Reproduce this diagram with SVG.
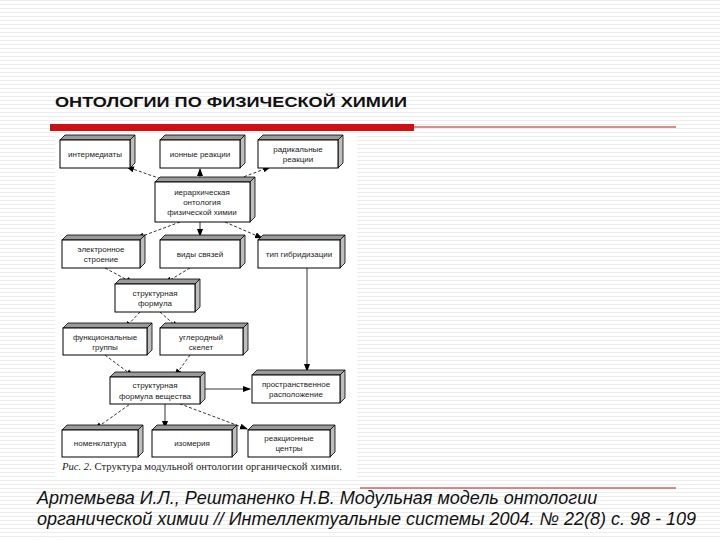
<svg xmlns="http://www.w3.org/2000/svg" width="720" height="540" viewBox="0 0 720 540">
<defs>
<pattern id="st" width="4" height="4" patternUnits="userSpaceOnUse"><rect width="4" height="4" fill="#fff"/><rect y="0" width="4" height="1" fill="#ececec"/></pattern>
<marker id="ar" markerWidth="8" markerHeight="8" refX="7" refY="4" orient="auto" markerUnits="userSpaceOnUse"><path d="M0,1 L8,4 L0,7 Z" fill="#000"/></marker>
<style>
.f{fill:#fff;stroke:#000;stroke-width:1}
.t{fill:#9a9a9a;stroke:#000;stroke-width:0.8}
.r{fill:#bdbdbd;stroke:#000;stroke-width:0.8}
.x{font-family:"Liberation Sans",Arial,sans-serif;font-size:8px;fill:#222;text-anchor:middle}
.d{stroke:#000;stroke-width:0.8;fill:none;stroke-dasharray:3,2;marker-end:url(#ar)}
.s{stroke:#000;stroke-width:0.8;fill:none;marker-end:url(#ar)}
</style>
</defs>
<rect width="720" height="540" fill="url(#st)"/>
<text x="55" y="107" font-family="Liberation Sans,Arial,sans-serif" font-size="15" font-weight="bold" fill="#111" textLength="352" lengthAdjust="spacingAndGlyphs">ОНТОЛОГИИ ПО ФИЗИЧЕСКОЙ ХИМИИ</text>
<rect x="50" y="124" width="364" height="7" fill="#d01010"/>
<line x1="414" y1="127" x2="676" y2="127" stroke="#d01010" stroke-width="1"/>
<rect x="55" y="134" width="302" height="344" fill="#fff"/>
<g id="connectors">
<path class="d" d="M170,182 L127,167"/>
<path class="s" d="M200,182 L200,169"/>
<path class="d" d="M230,182 L270,167"/>
<path class="d" d="M180,222 L137,238"/>
<path class="s" d="M200,222 L200,236"/>
<path class="d" d="M225,222 L262,238"/>
<path class="d" d="M105,268 L133,283"/>
<path class="d" d="M190,268 L165,283"/>
<path class="d" d="M140,312 L125,328"/>
<path class="d" d="M160,312 L178,328"/>
<path class="d" d="M105,355 L133,376"/>
<path class="d" d="M190,355 L175,376"/>
<path class="s" d="M307,268 L307,371"/>
<path class="s" d="M200,389 L250,389"/>
<path class="d" d="M133,402 L95,429"/>
<path class="s" d="M165,402 L165,428"/>
<path class="d" d="M175,402 L247,429"/>
</g>
<g id="n1"><polygon class="t" points="60,140 65,135 135,135 130,140"/><polygon class="r" points="130,140 135,135 135,163 130,168"/><rect class="f" x="60" y="140" width="70" height="28"/><text class="x" x="95" y="157">интермедиаты</text></g>
<g id="n2"><polygon class="t" points="160,140 165,135 245,135 240,140"/><polygon class="r" points="240,140 245,135 245,163 240,168"/><rect class="f" x="160" y="140" width="80" height="28"/><text class="x" x="200" y="157">ионные реакции</text></g>
<g id="n3"><polygon class="t" points="258,140 263,135 343,135 338,140"/><polygon class="r" points="338,140 343,135 343,163 338,168"/><rect class="f" x="258" y="140" width="80" height="28"/><text class="x" x="298" y="152">радикальные</text><text class="x" x="298" y="162">реакции</text></g>
<g id="n4"><polygon class="t" points="155,182 160,177 255,177 250,182"/><polygon class="r" points="250,182 255,177 255,217 250,222"/><rect class="f" x="155" y="182" width="95" height="40"/><text class="x" x="202" y="195">иерархическая</text><text class="x" x="202" y="205">онтология</text><text class="x" x="202" y="215">физической химии</text></g>
<g id="n5"><polygon class="t" points="62,240 67,235 145,235 140,240"/><polygon class="r" points="140,240 145,235 145,263 140,268"/><rect class="f" x="62" y="240" width="78" height="28"/><text class="x" x="101" y="252">электронное</text><text class="x" x="101" y="262">строение</text></g>
<g id="n6"><polygon class="t" points="160,240 165,235 245,235 240,240"/><polygon class="r" points="240,240 245,235 245,263 240,268"/><rect class="f" x="160" y="240" width="80" height="28"/><text class="x" x="200" y="257">виды связей</text></g>
<g id="n7"><polygon class="t" points="258,240 263,235 345,235 340,240"/><polygon class="r" points="340,240 345,235 345,263 340,268"/><rect class="f" x="258" y="240" width="82" height="28"/><text class="x" x="299" y="257">тип гибридизации</text></g>
<g id="n8"><polygon class="t" points="115,284 120,279 200,279 195,284"/><polygon class="r" points="195,284 200,279 200,307 195,312"/><rect class="f" x="115" y="284" width="80" height="28"/><text class="x" x="155" y="296">структурная</text><text class="x" x="155" y="306">формула</text></g>
<g id="n9"><polygon class="t" points="63,328 68,323 152,323 147,328"/><polygon class="r" points="147,328 152,323 152,350 147,355"/><rect class="f" x="63" y="328" width="84" height="27"/><text class="x" x="105" y="340">функциональные</text><text class="x" x="105" y="350">группы</text></g>
<g id="n10"><polygon class="t" points="160,328 165,323 248,323 243,328"/><polygon class="r" points="243,328 248,323 248,350 243,355"/><rect class="f" x="160" y="328" width="83" height="27"/><text class="x" x="201" y="340">углеродный</text><text class="x" x="201" y="350">скелет</text></g>
<g id="n11"><polygon class="t" points="110,377 115,372 205,372 200,377"/><polygon class="r" points="200,377 205,372 205,399 200,404"/><rect class="f" x="110" y="377" width="90" height="27"/><text class="x" x="155" y="388">структурная</text><text class="x" x="155" y="399">формула вещества</text></g>
<g id="n12"><polygon class="t" points="252,375 257,370 345,370 340,375"/><polygon class="r" points="340,375 345,370 345,398 340,403"/><rect class="f" x="252" y="375" width="88" height="28"/><text class="x" x="296" y="387">пространственное</text><text class="x" x="296" y="397">расположение</text></g>
<g id="n13"><polygon class="t" points="62,430 67,425 143,425 138,430"/><polygon class="r" points="138,430 143,425 143,452 138,457"/><rect class="f" x="62" y="430" width="76" height="27"/><text class="x" x="100" y="446">номенклатура</text></g>
<g id="n14"><polygon class="t" points="152,430 157,425 237,425 232,430"/><polygon class="r" points="232,430 237,425 237,452 232,457"/><rect class="f" x="152" y="430" width="80" height="27"/><text class="x" x="192" y="446">изомерия</text></g>
<g id="n15"><polygon class="t" points="248,430 253,425 335,425 330,430"/><polygon class="r" points="330,430 335,425 335,452 330,457"/><rect class="f" x="248" y="430" width="82" height="27"/><text class="x" x="289" y="441">реакционные</text><text class="x" x="289" y="451">центры</text></g>
<text x="62" y="470" font-family="Liberation Serif,serif" font-size="10" fill="#222" textLength="280" lengthAdjust="spacingAndGlyphs"><tspan font-style="italic">Рис. 2.</tspan> Структура модульной онтологии органической химии.</text>
<line x1="360" y1="488" x2="676" y2="488" stroke="#d01010" stroke-width="1"/>
<text font-family="Liberation Sans,Arial,sans-serif" font-size="18" font-style="italic" fill="#111"><tspan x="37" y="504">Артемьева И.Л., Рештаненко Н.В. Модульная модель онтологии</tspan><tspan x="37" y="525">органической химии // Интеллектуальные системы 2004. № 22(8) с. 98 - 109</tspan></text>
</svg>
